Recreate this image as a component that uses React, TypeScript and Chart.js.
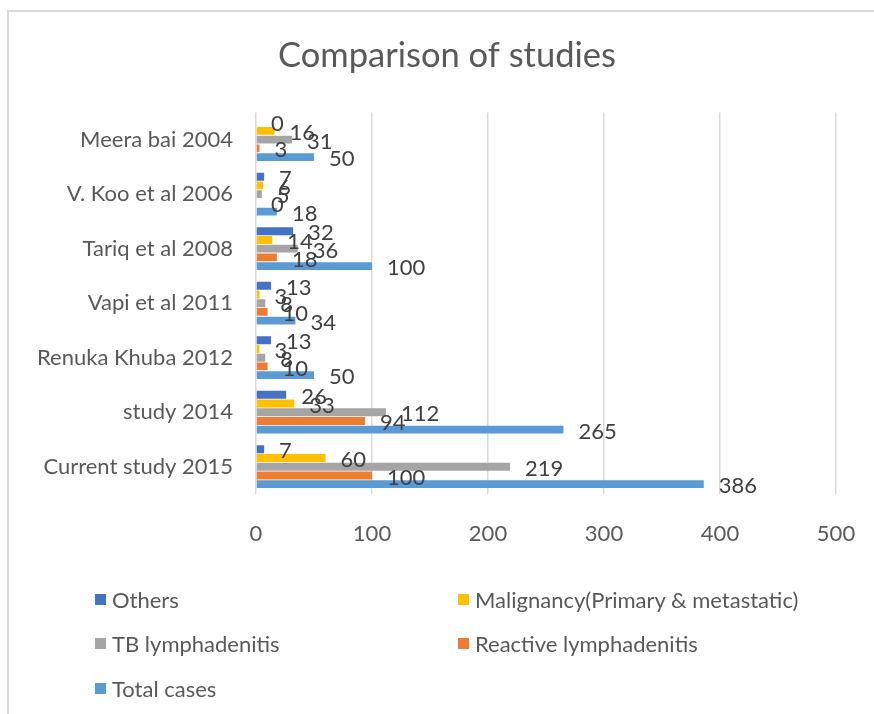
import React, { useEffect, useRef } from "react";
import { Chart, registerables } from "chart.js";

Chart.register(...registerables);

const studies = [
  "Meera bai 2004",
  "V. Koo et al 2006",
  "Tariq et al 2008",
  "Vapi et al 2011",
  "Renuka Khuba 2012",
  "study 2014",
  "Current study 2015",
];

const others = [0, 7, 32, 13, 13, 26, 7];
const malignancy = [16, 6, 14, 3, 3, 33, 60];
const tbLymphadenitis = [31, 5, 36, 8, 8, 112, 219];
const reactiveLymphadenitis = [3, 0, 18, 10, 10, 94, 100];
const totalCases = [50, 18, 100, 34, 50, 265, 386];

const seriesNames = [
  "Others",
  "Malignancy(Primary & metastatic)",
  "TB lymphadenitis",
  "Reactive lymphadenitis",
  "Total cases",
];
const seriesColors = ["#4472C4", "#FFC000", "#A5A5A5", "#ED7D31", "#5B9BD5"];
const xTicks = [0, 100, 200, 300, 400, 500];

const FONT = "Lato, 'Open Sans', sans-serif";
const CANVAS_W = 894;

const valueLabels = {
  id: "valueLabels",
  afterDatasetsDraw(chart: any) {
    const ctx = chart.ctx;
    ctx.save();
    ctx.font = `22px ${FONT}`;
    ctx.fillStyle = "#404040";
    ctx.textAlign = "left";
    ctx.textBaseline = "middle";
    chart.data.datasets.forEach((ds: any, i: number) => {
      const meta = chart.getDatasetMeta(i);
      meta.data.forEach((el: any, j: number) => {
        ctx.fillText(String(ds.data[j]), el.x + 15, el.y + 2);
      });
    });
    ctx.restore();
  },
};

export default function App() {
  const ref = useRef<HTMLCanvasElement>(null);
  useEffect(() => {
    const seriesData = [others, malignancy, tbLymphadenitis, reactiveLymphadenitis, totalCases];
    const chart = new Chart(ref.current as HTMLCanvasElement, {
      type: "bar",
      data: {
        labels: studies,
        datasets: seriesNames.map((name, i) => ({
          label: name,
          data: seriesData[i],
          backgroundColor: seriesColors[i],
          barPercentage: 0.9,
          categoryPercentage: 0.8,
        })),
      },
      options: {
        indexAxis: "y",
        animation: false,
        responsive: false,
        maintainAspectRatio: false,
        layout: { padding: 0 },
        plugins: {
          legend: { display: false },
          tooltip: { enabled: false },
          title: {
            display: true,
            text: "Comparison of studies",
            color: "#595959",
            font: { family: FONT, size: 34.5, weight: "normal" },
            padding: { top: 35, bottom: 36 },
          },
        },
        scales: {
          x: {
            min: 0,
            max: 500,
            afterBuildTicks: (s: any) => {
              s.ticks = xTicks.map((v) => ({ value: v }));
            },
            afterFit: (s: any) => {
              s.height = 220;
              s.paddingLeft = 0;
              s.paddingRight = CANVAS_W - 836;
            },
            grid: { color: "#d9d9d9", lineWidth: 1.5, drawTicks: false },
            border: { display: false },
            ticks: {
              color: "#595959",
              font: { family: FONT, size: 22 },
              padding: 27,
            },
          },
          y: {
            afterFit: (s: any) => {
              s.width = 256;
            },
            grid: { display: false, drawTicks: false },
            border: { display: false },
            ticks: {
              color: "#595959",
              font: { family: FONT, size: 22 },
              padding: 23,
            },
          },
        },
      },
      plugins: [valueLabels],
    } as any);
    return () => chart.destroy();
  }, []);

  const legendPos = [
    { x: 95, y: 599 },
    { x: 458, y: 599 },
    { x: 95, y: 643 },
    { x: 458, y: 643 },
    { x: 95, y: 688 },
  ];

  return (
    <div style={{ position: "fixed", left: 0, top: 0, width: 874, height: 714, background: "#fff", overflow: "hidden" }}>
      <div
        style={{
          position: "absolute",
          left: 7,
          top: 10,
          width: 900,
          height: 720,
          borderLeft: "2px solid #d9d9d9",
          borderTop: "2px solid #d9d9d9",
        }}
      />
      <canvas
        ref={ref}
        width={CANVAS_W}
        height={714}
        style={{ position: "absolute", left: 0, top: 0, width: CANVAS_W, height: 714 }}
      />
      {seriesNames.map((name, i) => (
        <div
          key={name}
          style={{
            position: "absolute",
            left: legendPos[i].x,
            top: legendPos[i].y - 13,
            height: 26,
            display: "flex",
            alignItems: "center",
            fontFamily: FONT,
            fontSize: 22,
            color: "#595959",
            whiteSpace: "nowrap",
          }}
        >
          <span style={{ display: "inline-block", width: 11, height: 11, background: seriesColors[i], marginRight: 6 }} />
          {name}
        </div>
      ))}
    </div>
  );
}
